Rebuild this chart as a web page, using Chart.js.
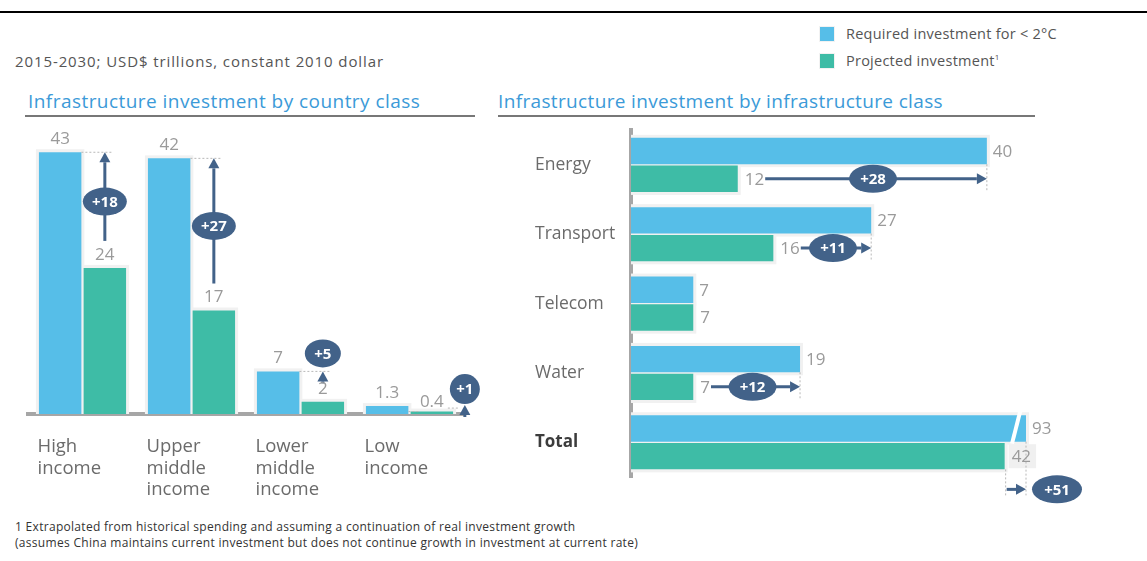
<!DOCTYPE html>
<html>
<head>
<meta charset="utf-8">
<script src="https://cdn.jsdelivr.net/npm/chart.js@4/dist/chart.umd.min.js"></script>
<style>
  html, body { margin:0; padding:0; background:#fff; }
  body { width:1147px; height:561px; position:relative; overflow:hidden; font-family:'Open Sans', sans-serif; }
  .t { position:absolute; white-space:nowrap; }
  canvas { position:absolute; }
</style>
</head>
<body>
<div style="position:absolute;left:0;top:11px;width:1147px;height:2px;background:#000"></div>

<div class="t" style="left:15px;top:51px;font-size:15px;line-height:20px;letter-spacing:0.9px;color:#555">2015-2030; USD$ trillions, constant 2010 dollar</div>

<div style="position:absolute;left:819px;top:26px;width:16px;height:16px;background:#f2f2f2"></div>
<div style="position:absolute;left:820px;top:27px;width:14px;height:14px;background:#56bee8"></div>
<div class="t" style="left:846px;top:24px;font-size:14.5px;line-height:20px;letter-spacing:0.25px;color:#555">Required investment for &lt; 2°C</div>
<div style="position:absolute;left:819px;top:53px;width:16px;height:16px;background:#f2f2f2"></div>
<div style="position:absolute;left:820px;top:54px;width:14px;height:14px;background:#3ebca6"></div>
<div class="t" style="left:846px;top:51px;font-size:14.5px;line-height:20px;letter-spacing:0.25px;color:#555">Projected investment<span style="font-size:8px;position:relative;top:-6px">1</span></div>

<div class="t" style="left:28px;top:90px;font-size:19px;line-height:22px;letter-spacing:0.45px;color:#3b9ad8">Infrastructure investment by country class</div>
<div style="position:absolute;left:25px;top:115px;width:450px;height:2px;background:#777"></div>
<div class="t" style="left:498px;top:90px;font-size:19px;line-height:22px;letter-spacing:0.35px;color:#3b9ad8">Infrastructure investment by infrastructure class</div>
<div style="position:absolute;left:498px;top:115px;width:537px;height:2px;background:#777"></div>

<canvas id="left" width="480" height="390" style="left:0;top:120px;width:480px;height:390px"></canvas>
<canvas id="right" width="667" height="390" style="left:480px;top:120px;width:667px;height:390px"></canvas>

<div class="t" style="left:15px;top:519px;font-size:12px;line-height:16px;letter-spacing:0.3px;color:#333">1 Extrapolated from historical spending and assuming a continuation of real investment growth</div>
<div class="t" style="left:15px;top:535px;font-size:12px;line-height:16px;letter-spacing:0.3px;color:#333">(assumes China maintains current investment but does not continue growth in investment at current rate)</div>

<script>
// ---- data ----
const countryClasses = [['High', 'income'], ['Upper', 'middle', 'income'], ['Lower', 'middle', 'income'], ['Low', 'income']];
const countryRequired = [43, 42, 7, 1.3];
const countryProjected = [24, 17, 2, 0.4];
const countryGap = ['+18', '+27', '+5', '+1'];

const infraClasses = ['Energy', 'Transport', 'Telecom', 'Water', 'Total'];
const infraRequired = [40, 27, 7, 19, 93];
const infraProjected = [12, 16, 7, 7, 42];
const infraGap = ['+28', '+11', '', '+12', '+51'];

const seriesNames = ['Required investment for < 2°C', 'Projected investment'];

// ---- style ----
const FONT = "'Open Sans', sans-serif";
const BLUE = '#56bee8', GREEN = '#3ebca6', DARK = '#426289';
const VAL = '#9a9a9a', HALO = '#f1f1f1';

function pill(ctx, cx, cy, rx, ry, text) {
  ctx.save();
  ctx.beginPath(); ctx.ellipse(cx, cy, rx, ry, 0, 0, Math.PI * 2);
  ctx.fillStyle = DARK; ctx.fill();
  ctx.fillStyle = '#fff'; ctx.font = 'bold 15px ' + FONT;
  ctx.textAlign = 'center'; ctx.textBaseline = 'middle';
  ctx.fillText(text, cx, cy + 1);
  ctx.restore();
}
function arrow(ctx, x1, y1, x2, y2) {
  const ang = Math.atan2(y2 - y1, x2 - x1), h = 10, w = 5.5;
  ctx.save();
  ctx.strokeStyle = DARK; ctx.fillStyle = DARK; ctx.lineWidth = 3;
  const bx = x2 - h * Math.cos(ang), by = y2 - h * Math.sin(ang);
  if (Math.hypot(bx - x1, by - y1) > 0.5 && ((bx - x1) * (x2 - x1) + (by - y1) * (y2 - y1)) > 0) {
    ctx.beginPath(); ctx.moveTo(x1, y1); ctx.lineTo(bx, by); ctx.stroke();
  }
  ctx.beginPath();
  ctx.moveTo(x2, y2);
  ctx.lineTo(bx - w * Math.sin(ang), by + w * Math.cos(ang));
  ctx.lineTo(bx + w * Math.sin(ang), by - w * Math.cos(ang));
  ctx.closePath(); ctx.fill();
  ctx.restore();
}
function dotted(ctx, x1, y1, x2, y2) {
  ctx.save();
  ctx.strokeStyle = '#b8b8b8'; ctx.lineWidth = 1; ctx.setLineDash([2, 2]);
  ctx.beginPath(); ctx.moveTo(x1, y1); ctx.lineTo(x2, y2); ctx.stroke();
  ctx.restore();
}
function valText(ctx, text, x, y, align) {
  ctx.save();
  ctx.fillStyle = VAL; ctx.font = '17px ' + FONT;
  ctx.textAlign = align; ctx.textBaseline = 'middle';
  ctx.fillText(text, x, y);
  ctx.restore();
}

const haloPlugin = {
  id: 'halo',
  beforeDatasetsDraw(chart) {
    const ctx = chart.ctx, area = chart.chartArea, p = 3;
    ctx.save();
    ctx.fillStyle = HALO;
    chart.data.datasets.forEach((ds, di) => {
      chart.getDatasetMeta(di).data.forEach(el => {
        const r = el.getProps(['x', 'y', 'base', 'width', 'height', 'horizontal'], true);
        if (r.horizontal) {
          const end = Math.min(r.x, area.right);
          ctx.fillRect(r.base, r.y - r.height / 2 - p, end - r.base + p, r.height + 2 * p);
        } else {
          ctx.fillRect(r.x - r.width / 2 - p, r.y - p, r.width + 2 * p, r.base - r.y + p);
        }
      });
    });
    ctx.restore();
  }
};

const leftAnnot = {
  id: 'leftAnnot',
  afterDatasetsDraw(chart) {
    const ctx = chart.ctx;
    const mb = chart.getDatasetMeta(0).data, mg = chart.getDatasetMeta(1).data;
    const last = countryRequired.length - 1;
    countryRequired.forEach((v, i) => {
      const b = mb[i], g = mg[i];
      const bRight = b.x + b.width / 2;
      let ax = g.x, start = g.y - 27;
      const small = start - b.y < 30;
      if (i === last) ax = g.x + 33;
      if (small) start = b.y + 12;
      if (i === last) {
        dotted(ctx, bRight, g.y, g.x - 12, g.y);
        dotted(ctx, g.x + 16, b.y + 2, ax - 6, b.y + 2);
        arrow(ctx, ax, chart.chartArea.bottom + 3, ax, chart.chartArea.bottom - 9);
        pill(ctx, ax, b.y - 17, 15, 15, countryGap[i]);
      } else {
        dotted(ctx, bRight, b.y, ax + 8, b.y);
        arrow(ctx, ax, start, ax, b.y);
        if (small) pill(ctx, ax, b.y - 18, 18, 14, countryGap[i]);
        else pill(ctx, ax, (start + b.y) / 2 + 5, 22, 14, countryGap[i]);
      }
      valText(ctx, String(v), b.x, b.y - 13, 'center');
      valText(ctx, String(countryProjected[i]), g.x, g.y - (i === last ? 9 : 13), 'center');
    });
  }
};

const rightAnnot = {
  id: 'rightAnnot',
  afterDatasetsDraw(chart) {
    const ctx = chart.ctx, area = chart.chartArea;
    const mb = chart.getDatasetMeta(0).data, mg = chart.getDatasetMeta(1).data;
    const last = infraRequired.length - 1;
    infraRequired.forEach((v, i) => {
      const b = mb[i], g = mg[i];
      const bEnd = Math.min(b.x, area.right);
      const bBottom = b.y + b.height / 2, gBottom = g.y + g.height / 2, bTop = b.y - b.height / 2;
      ctx.save(); ctx.font = '17px ' + FONT;
      const gw = ctx.measureText(String(infraProjected[i])).width;
      ctx.restore();
      if (i === last) {
        ctx.save(); ctx.strokeStyle = '#fff'; ctx.lineWidth = 4;
        ctx.beginPath(); ctx.moveTo(bEnd - 14, bBottom + 2); ctx.lineTo(bEnd - 5, bTop - 7); ctx.stroke();
        ctx.restore();
        ctx.save(); ctx.fillStyle = '#f0f0f0';
        ctx.fillRect(g.x + 4, g.y - 12, gw + 8, 24); ctx.restore();
        dotted(ctx, g.x + 1, gBottom, g.x + 1, gBottom + 26);
        dotted(ctx, bEnd, bBottom, bEnd, gBottom + 26);
        arrow(ctx, g.x + 2, gBottom + 20, bEnd, gBottom + 20);
        pill(ctx, bEnd + 31, gBottom + 20, 25, 14, infraGap[i]);
      } else if (infraGap[i]) {
        dotted(ctx, bEnd, bBottom, bEnd, gBottom);
        const x1 = g.x + 7 + gw + 1;
        arrow(ctx, x1, g.y, bEnd, g.y);
        pill(ctx, (x1 + bEnd) / 2 - 3, g.y, 24, 14, infraGap[i]);
      }
      valText(ctx, String(v), bEnd + 6, b.y + 1, 'left');
      valText(ctx, String(infraProjected[i]), g.x + 7, g.y + 1, 'left');
    });
  }
};

new Chart(document.getElementById('left'), {
  type: 'bar',
  data: {
    labels: countryClasses,
    datasets: [
      { label: seriesNames[0], data: countryRequired, backgroundColor: BLUE, categoryPercentage: 0.82, barPercentage: 0.95 },
      { label: seriesNames[1], data: countryProjected, backgroundColor: GREEN, categoryPercentage: 0.82, barPercentage: 0.95 }
    ]
  },
  options: {
    responsive: false, animation: false,
    layout: { padding: { left: 28, right: 16, top: 0, bottom: 0 } },
    plugins: { legend: { display: false }, tooltip: { enabled: false } },
    scales: {
      x: {
        grid: { display: false, drawTicks: false },
        border: { display: true, color: '#a6a6a6', width: 4 },
        ticks: { align: 'start', labelOffset: -45, padding: 22, color: '#6b6b6b', font: { family: FONT, size: 18.5, lineHeight: 1.17 } },
        afterFit(s) { s.height = 96; s.paddingLeft = 0; s.paddingRight = 0; }
      },
      y: { display: false, min: 0, max: 48.3 }
    }
  },
  plugins: [haloPlugin, leftAnnot]
});

new Chart(document.getElementById('right'), {
  type: 'bar',
  data: {
    labels: infraClasses,
    datasets: [
      { label: seriesNames[0], data: infraRequired, backgroundColor: BLUE, categoryPercentage: 0.8, barPercentage: 0.95, clip: 0 },
      { label: seriesNames[1], data: infraProjected, backgroundColor: GREEN, categoryPercentage: 0.8, barPercentage: 0.95, clip: 0 }
    ]
  },
  options: {
    indexAxis: 'y', responsive: false, animation: false,
    layout: { padding: { left: 55, right: 121, top: 9, bottom: 33 } },
    plugins: { legend: { display: false }, tooltip: { enabled: false } },
    scales: {
      x: { display: false, min: 0, max: 44.4 },
      y: {
        grid: { display: false, drawTicks: false },
        border: { display: true, color: '#a6a6a6', width: 4 },
        ticks: {
          crossAlign: 'far', padding: 0,
          color: c => c.index === 4 ? '#3c3c3c' : '#6b6b6b',
          font: c => ({ family: FONT, size: c.index === 4 ? 17 : 17.5, weight: c.index === 4 ? 'bold' : 'normal' })
        },
        afterFit(s) { s.width = 96; }
      }
    }
  },
  plugins: [haloPlugin, rightAnnot]
});
</script>
</body>
</html>
